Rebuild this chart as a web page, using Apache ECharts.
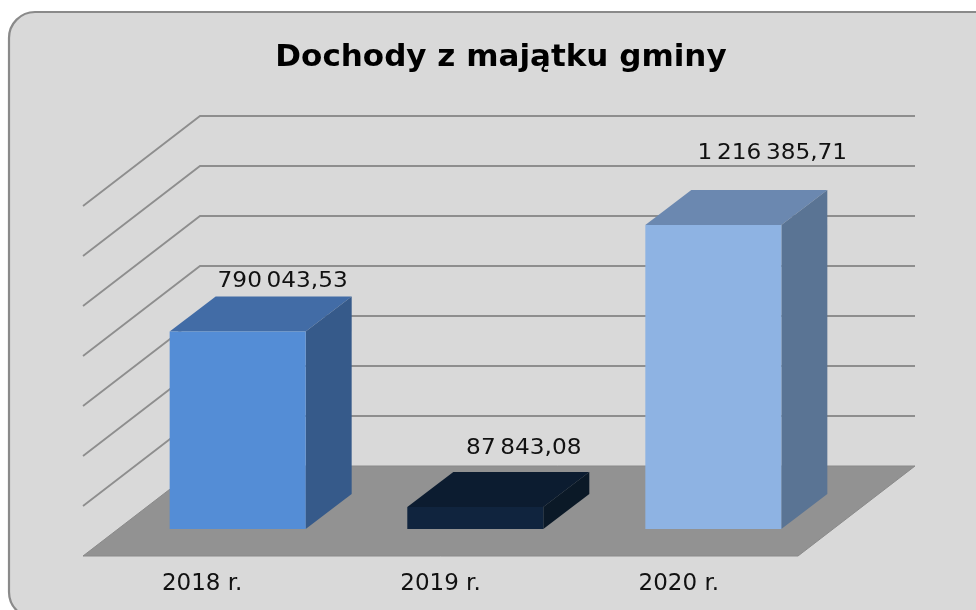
<!DOCTYPE html>
<html><head><meta charset="utf-8">
<style>html,body{margin:0;padding:0;background:#fff}#c{width:976px;height:610px}</style>
<script src="https://cdn.jsdelivr.net/npm/echarts@6/dist/echarts.min.js"></script>
</head><body><div id="c"></div>
<script>
const titleText = 'Dochody z majątku gminy';
const categories = ['2018 r.', '2019 r.', '2020 r.'];
const values = [790043.53, 87843.08, 1216385.71];
const valueLabels = ['790\u2009043,53', '87\u2009843,08', '1\u2009216\u2009385,71'];
const gridLevels = [200000, 400000, 600000, 800000, 1000000, 1200000, 1400000];
const frontColors = ['#548dd6', '#10243e', '#8eb3e3'];
const topColors = ['#426ca6', '#0c1c30', '#6b88b0'];
const sideColors = ['#365a8a', '#0b1927', '#5a7494'];
const labelShift = [[-1, -15], [2.5, -23], [13, -36]];
const barNudge = [0, -0.7, -1];

const FONT = '"DejaVu Sans"';
const WALL = [117, -90];     // full floor depth in px
const BAR_FRONT = [35.5, -27]; // bar front face inset on the floor
const BAR_DEPTH = [46, -35]; // bar own depth
const BAR_W = 136;

const chart = echarts.init(document.getElementById('c'), null, {renderer: 'canvas'});
chart.setOption({
  animation: false,
  backgroundColor: '#ffffff',
  title: {text: titleText, left: 496, top: 37, textAlign: 'center',
    textStyle: {fontFamily: FONT, fontWeight: 'bold', fontSize: 31, color: '#000'}},
  graphic: [{type: 'rect', z: -10, silent: true,
    shape: {x: 9, y: 12, width: 1040, height: 606, r: 26},
    style: {fill: '#d9d9d9', stroke: '#8a8a8a', lineWidth: 2.2}}],
  grid: {left: 83, top: 206, width: 715, height: 350},
  xAxis: {type: 'category', data: categories, axisLine: {show: false}, axisTick: {show: false},
    axisLabel: {margin: 17, fontFamily: FONT, fontSize: 23, color: '#111'}},
  yAxis: {type: 'value', min: 0, max: 1400000, interval: 200000, show: false, splitLine: {show: false}},
  series: [
    {type: 'custom', coordinateSystem: 'cartesian2d', z: 1, silent: true, data: [[0, 0]],
      renderItem(params, api) {
        const a = api.coord([0, 0]), w = api.size([1, 0])[0];
        const l = a[0] - w / 2, r = l + 3 * w, y = a[1];
        return {type: 'polygon', shape: {points: [[l, y], [r, y], [r + WALL[0], y + WALL[1]], [l + WALL[0], y + WALL[1]]]},
          style: {fill: '#929292', stroke: '#8a8a8a', lineWidth: 1}};
      }},
    {type: 'custom', coordinateSystem: 'cartesian2d', z: 2, silent: true,
      data: gridLevels.map(v => [0, v]),
      renderItem(params, api) {
        const a = api.coord([0, api.value(1)]), w = api.size([1, 0])[0];
        const l = a[0] - w / 2, r = l + 3 * w, y = a[1];
        return {type: 'polyline', shape: {points: [[l, y], [l + WALL[0], y + WALL[1]], [r + WALL[0], y + WALL[1]]]},
          style: {fill: null, stroke: '#8e8e8e', lineWidth: 1.8}};
      }},
    {type: 'custom', coordinateSystem: 'cartesian2d', z: 3, silent: true,
      data: values.map((v, i) => [i, v]),
      renderItem(params, api) {
        const i = params.dataIndex;
        const b = api.coord([i, 0]), t = api.coord([i, api.value(1)]);
        const x0 = b[0] + BAR_FRONT[0] + barNudge[i] - BAR_W / 2, x1 = x0 + BAR_W;
        const y0 = b[1] + BAR_FRONT[1], y1 = t[1] + BAR_FRONT[1];
        const dx = BAR_DEPTH[0], dy = BAR_DEPTH[1];
        return {type: 'group', children: [
          {type: 'polygon', shape: {points: [[x0, y1], [x1, y1], [x1 + dx, y1 + dy], [x0 + dx, y1 + dy]]}, style: {fill: topColors[i]}},
          {type: 'polygon', shape: {points: [[x1, y0], [x1 + dx, y0 + dy], [x1 + dx, y1 + dy], [x1, y1]]}, style: {fill: sideColors[i]}},
          {type: 'rect', shape: {x: x0, y: y1, width: BAR_W, height: y0 - y1}, style: {fill: frontColors[i]}},
          {type: 'text', x: (x0 + x1) / 2 + dx + labelShift[i][0], y: y1 + dy + labelShift[i][1], scaleX: 1.105,
            style: {text: valueLabels[i], x: 0, y: 0,
            align: 'center', verticalAlign: 'middle', fontFamily: FONT, fontSize: 21, fill: '#111'}}
        ]};
      }}
  ]
});
</script></body></html>
